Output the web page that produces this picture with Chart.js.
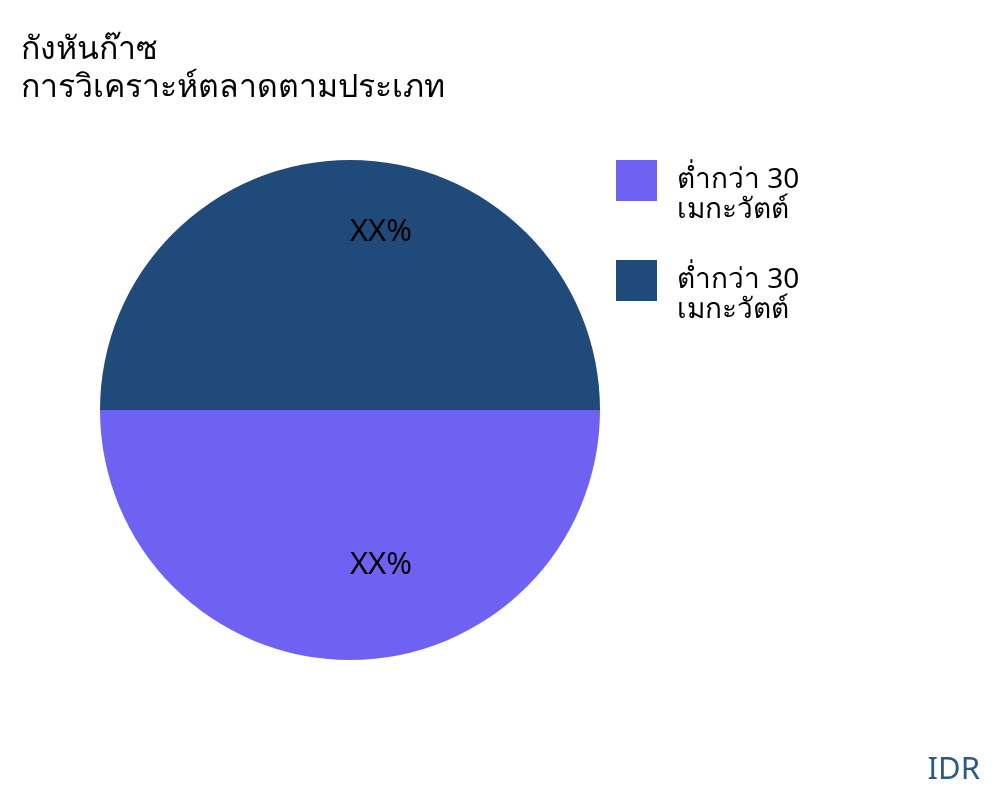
<!DOCTYPE html>
<html lang="th">
<head>
  <meta charset="UTF-8" />
  <title>กังหันก๊าซ</title>
  <script src="https://cdn.jsdelivr.net/npm/chart.js"></script>
  <style>
    html, body { margin: 0; padding: 0; background: #fff; }
    body { width: 1000px; height: 800px; position: relative; overflow: hidden; font-family: "Noto Sans", sans-serif; }
    .title { position: absolute; left: 21px; top: 28px; font-size: 32px; line-height: 38px; color: #000; }
    .brand { position: absolute; right: 20px; bottom: 12px; font-size: 31px; color: #2b5a85; }
    .wrap { position: absolute; left: 0; top: 0; width: 1000px; height: 800px; }
  </style>
</head>
<body>
  <div class="wrap"><canvas id="chartPie"></canvas></div>
  <div class="title">กังหันก๊าซ<br>การวิเคราะห์ตลาดตามประเภท</div>
  <div class="brand">IDR</div>

<script>
  // ข้อมูล
  const categories = [
    ['ต่ำกว่า 30', 'เมกะวัตต์'],
    ['ต่ำกว่า 30', 'เมกะวัตต์']
  ];
  const shares = [50, 50];
  const valueLabels = ['XX%', 'XX%'];
  const colors = ['#6f61f2', '#1f4a79'];

  // ป้ายค่าในแต่ละชิ้น
  const sliceLabels = {
    id: 'sliceLabels',
    afterDatasetsDraw(chart) {
      const ctx = chart.ctx;
      const meta = chart.getDatasetMeta(0);
      const radFactor = [0.62, 0.71];
      ctx.save();
      ctx.font = '31px "Noto Sans", sans-serif';
      ctx.fillStyle = '#000';
      ctx.textAlign = 'center';
      ctx.textBaseline = 'middle';
      meta.data.forEach((arc, i) => {
        const p = arc.getProps(['x', 'y', 'startAngle', 'endAngle', 'outerRadius']);
        const mid = (p.startAngle + p.endAngle) / 2;
        const r = p.outerRadius * radFactor[i];
        ctx.fillText(valueLabels[i], p.x + Math.cos(mid) * r + 31, p.y + Math.sin(mid) * r);
      });
      ctx.restore();
    }
  };

  // คำอธิบายด้านขวา
  const sideLegend = {
    id: 'sideLegend',
    afterDraw(chart) {
      const ctx = chart.ctx;
      const ds = chart.data.datasets[0];
      ctx.save();
      ctx.font = '28px "Noto Sans", sans-serif';
      ctx.textBaseline = 'middle';
      chart.data.labels.forEach((lab, i) => {
        const top = 160 + i * 100;
        ctx.fillStyle = ds.backgroundColor[i];
        ctx.fillRect(616, top, 41, 41);
        ctx.fillStyle = '#000';
        lab.forEach((line, j) => ctx.fillText(line, 677, top + 20 + j * 30));
      });
      ctx.restore();
    }
  };

  new Chart(document.getElementById('chartPie'), {
    type: 'pie',
    data: {
      labels: categories,
      datasets: [{
        data: shares,
        backgroundColor: colors,
        borderWidth: 0
      }]
    },
    options: {
      responsive: true,
      maintainAspectRatio: false,
      animation: false,
      rotation: 90,
      layout: { padding: { left: 100, right: 400, top: 160, bottom: 140 } },
      plugins: {
        legend: { display: false },
        tooltip: { enabled: false }
      }
    },
    plugins: [sliceLabels, sideLegend]
  });
</script>
</body>
</html>
